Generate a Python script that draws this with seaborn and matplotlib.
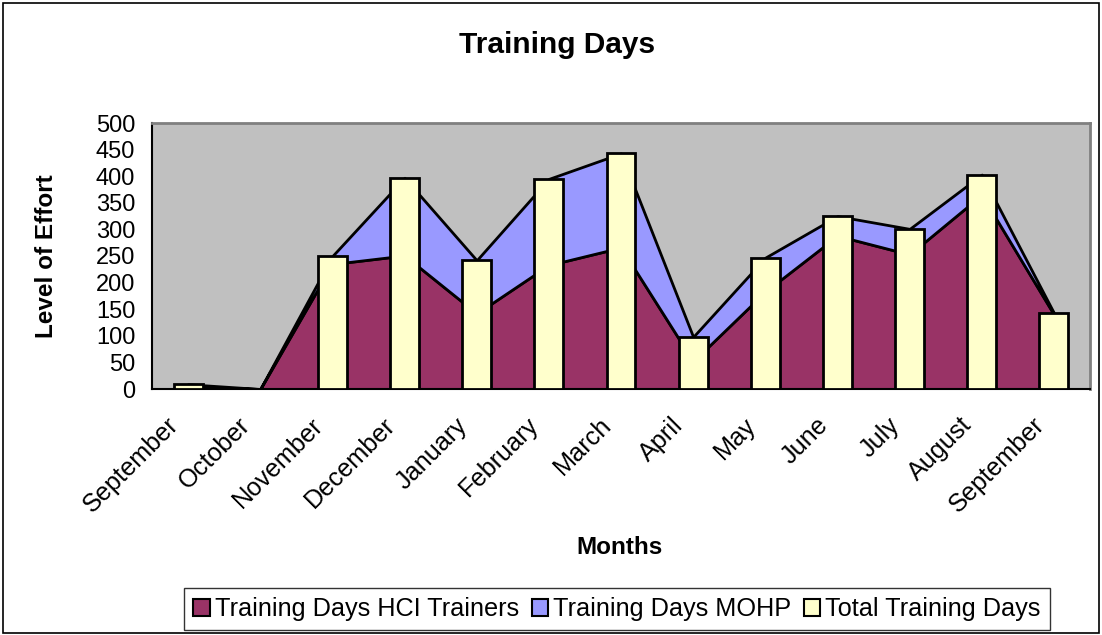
import numpy as np
import pandas as pd
import matplotlib
matplotlib.use("Agg")
import matplotlib.pyplot as plt
import matplotlib.transforms as mtransforms
import seaborn as sns
from matplotlib.patches import Rectangle, Patch

months = ["September", "October", "November", "December", "January", "February",
          "March", "April", "May", "June", "July", "August", "September"]
hci_days = [4, 0, 235, 251, 142, 233, 266, 52, 183, 288, 253, 365, 140]
mohp_days = [5, 0, 15, 146, 100, 162, 177, 46, 64, 37, 48, 38, 3]
total_days = [9, 0, 250, 397, 242, 395, 443, 98, 247, 325, 301, 403, 143]
y_ticks = [0, 50, 100, 150, 200, 250, 300, 350, 400, 450, 500]

series_names = ["Training Days HCI Trainers", "Training Days MOHP", "Total Training Days"]
colors = ["#993366", "#9999FF", "#FFFFCC"]

sns.set_style("white")
plt.rcParams["font.family"] = ["Liberation Sans", "DejaVu Sans"]
for k in ["text.color", "axes.labelcolor", "xtick.color", "ytick.color"]:
    plt.rcParams[k] = "black"

fig = plt.figure(figsize=(11.02, 6.35), dpi=100)
ax = fig.add_axes([152 / 1102, 1 - 389 / 635, 938 / 1102, 266 / 635])
ax.set_facecolor("#C0C0C0")

idx = np.arange(len(months))
hci = np.array(hci_days, dtype=float)
top = hci + np.array(mohp_days, dtype=float)

ax.fill_between(idx, 0, hci, facecolor=colors[0], edgecolor="black", linewidth=2, zorder=1)
ax.fill_between(idx, hci, top, facecolor=colors[1], edgecolor="black", linewidth=2, zorder=1)

df = pd.DataFrame({"idx": idx, "total": total_days})
sns.barplot(data=df, x="idx", y="total", ax=ax, color=colors[2], saturation=1,
            width=0.4, edgecolor="black", linewidth=2, zorder=2)
for p in ax.patches:
    p.set_zorder(3)

ax.set_xlim(-0.5, len(months) - 0.5)
ax.set_ylim(0, 500)
ax.set_yticks(y_ticks)
ax.set_yticklabels([str(v) for v in y_ticks], fontsize=17, color="black")
ax.set_xticks(idx)
ax.set_xticklabels([])
ax.set_xticks(np.arange(-0.5, len(months), 1), minor=True)
ax.tick_params(axis="x", which="major", length=0)
ax.tick_params(axis="x", which="minor", length=8, width=1.2, direction="out", color="black")
ax.tick_params(axis="y", which="major", length=8, width=1.2, direction="out", color="black", pad=4)

# month labels placed at each category, rotated like the original
blend = mtransforms.blended_transform_factory(ax.transData, ax.transAxes)
offset = mtransforms.ScaledTranslation(-22 / 100, -24 / 100, fig.dpi_scale_trans)
for i, m in zip(idx, months):
    ax.text(i, 0, m, transform=blend + offset, fontsize=18.2, rotation=45,
            ha="right", va="top", rotation_mode="anchor", color="black", clip_on=False)

ax.set_xlabel("")
ax.set_ylabel("")
for s in ["left", "bottom"]:
    ax.spines[s].set_color("black")
    ax.spines[s].set_linewidth(1.5)
for s in ["top", "right"]:
    ax.spines[s].set_color("#808080")
    ax.spines[s].set_linewidth(2)

fig.text(557 / 1102, 1 - 45 / 635, "Training Days", fontsize=21.5, fontweight="bold",
         ha="center", va="center")
fig.text(47 / 1102, 1 - 256 / 635, "Level of Effort", fontsize=17.5, fontweight="bold",
         ha="center", va="center", rotation=90)
fig.text(620 / 1102, 1 - 547 / 635, "Months", fontsize=17.5, fontweight="bold",
         ha="center", va="center")

handles = [Patch(facecolor=c, edgecolor="black", linewidth=1.5) for c in colors]
leg = fig.legend(handles, series_names, loc="center", bbox_to_anchor=(617 / 1102, 1 - 609 / 635),
                 ncol=3, fontsize=18.2, frameon=True, fancybox=False, edgecolor="black",
                 handlelength=0.65, handleheight=0.65, handletextpad=0.2, columnspacing=0.5,
                 borderpad=0.35, borderaxespad=0)
leg.get_frame().set_linewidth(1)

fig.patches.append(Rectangle((3 / 1102, 2 / 635), 1096 / 1102, 630 / 635, transform=fig.transFigure,
                             fill=False, edgecolor="black", linewidth=1.2))

fig.savefig("out.png", dpi=100)
